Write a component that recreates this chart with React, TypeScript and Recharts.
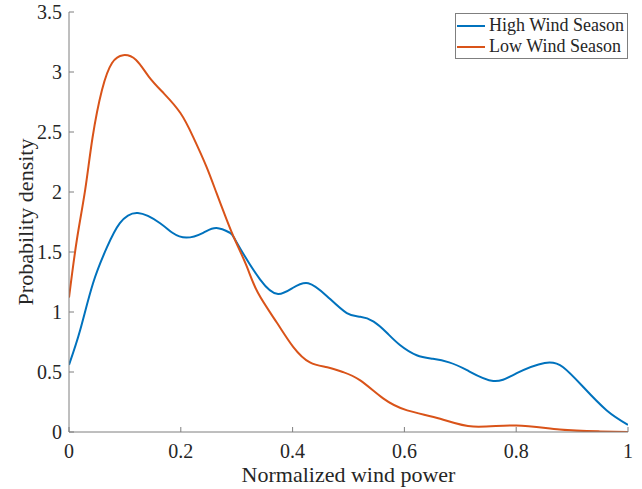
import React from 'react';
import { LineChart, Line, XAxis, YAxis, Legend } from 'recharts';

const highX = [0, 0.02, 0.043, 0.068, 0.091, 0.123, 0.163, 0.185, 0.21, 0.24, 0.264, 0.288, 0.3, 0.342, 0.374, 0.4, 0.428, 0.462, 0.497, 0.521, 0.545, 0.569, 0.592, 0.622, 0.651, 0.68, 0.712, 0.759, 0.801, 0.851, 0.884, 0.92, 0.962, 1.0];
const highY = [0.56, 0.85, 1.24, 1.54, 1.74, 1.825, 1.74, 1.66, 1.62, 1.66, 1.7, 1.66, 1.58, 1.27, 1.15, 1.2, 1.24, 1.13, 0.99, 0.96, 0.92, 0.825, 0.725, 0.64, 0.61, 0.58, 0.515, 0.425, 0.49, 0.575, 0.54, 0.375, 0.18, 0.06];

const lowX = [0, 0.014, 0.029, 0.042, 0.059, 0.077, 0.097, 0.12, 0.143, 0.17, 0.199, 0.222, 0.246, 0.264, 0.282, 0.297, 0.318, 0.338, 0.372, 0.401, 0.431, 0.462, 0.49, 0.521, 0.562, 0.605, 0.664, 0.723, 0.8, 0.878, 0.95, 1.0];
const lowY = [1.12, 1.6, 2.02, 2.45, 2.85, 3.075, 3.14, 3.1, 2.96, 2.82, 2.66, 2.46, 2.21, 1.99, 1.77, 1.6, 1.38, 1.16, 0.91, 0.71, 0.58, 0.54, 0.5, 0.43, 0.28, 0.18, 0.11, 0.045, 0.055, 0.02, 0.005, 0.0];

const xTicks = [0, 0.2, 0.4, 0.6, 0.8, 1];
const yTicks = [0, 0.5, 1, 1.5, 2, 2.5, 3, 3.5];

const seriesNames = ['High Wind Season', 'Low Wind Season'];
const seriesColors = ['#0072BD', '#D95319'];

const highData = highX.map((x, i) => ({ x, y: highY[i] }));
const lowData = lowX.map((x, i) => ({ x, y: lowY[i] }));

const AXIS = '#7f7f7f';
const TEXT = '#262626';
const FONT = '"Liberation Serif", "Times New Roman", serif';
const TL = 5;

const BottomTick = (p: any) => (
  <g>
    <line x1={p.x} x2={p.x} y1={p.y} y2={p.y - TL} stroke={AXIS} strokeWidth={1} />
    <text x={p.x} y={p.y + 26} textAnchor="middle" fontSize={20} fill={TEXT} fontFamily={FONT}>{String(p.payload.value)}</text>
  </g>
);
const LeftTick = (p: any) => (
  <g>
    <line x1={p.x} x2={p.x + TL} y1={p.y} y2={p.y} stroke={AXIS} strokeWidth={1} />
    <text x={p.x - 7} y={p.y + 7} textAnchor="end" fontSize={20} fill={TEXT} fontFamily={FONT}>{String(p.payload.value)}</text>
  </g>
);
const TopTick = (p: any) => (
  <line x1={p.x} x2={p.x} y1={p.y} y2={p.y + TL} stroke={AXIS} strokeWidth={1} />
);
const RightTick = (p: any) => (
  <line x1={p.x} x2={p.x - TL} y1={p.y} y2={p.y} stroke={AXIS} strokeWidth={1} />
);

const XLabel = (p: any) => {
  const vb = p.viewBox;
  return (
    <text x={vb.x + vb.width / 2} y={vb.y + 50} textAnchor="middle" fontSize={22} fill={TEXT} fontFamily={FONT}>
      Normalized wind power
    </text>
  );
};
const YLabel = (p: any) => {
  const vb = p.viewBox;
  const cx = vb.x + 33;
  const cy = vb.y + vb.height / 2;
  return (
    <text x={cx} y={cy} textAnchor="middle" fontSize={22} fill={TEXT} fontFamily={FONT} transform={`rotate(-90, ${cx}, ${cy})`}>
      Probability density
    </text>
  );
};

const LegendBox = () => (
  <div style={{ border: `1px solid ${AXIS}`, background: '#fff', width: 173, height: 46, boxSizing: 'border-box', padding: '1px 0 0 1px' }}>
    {seriesNames.map((n, i) => (
      <div key={n} style={{ display: 'flex', alignItems: 'center', height: 21, fontFamily: FONT, fontSize: 18, color: TEXT }}>
        <div style={{ width: 28, height: 2, background: seriesColors[i], marginRight: 4 }} />
        <span style={{ whiteSpace: 'nowrap' }}>{n}</span>
      </div>
    ))}
  </div>
);

export default function App() {
  return (
    <div style={{ position: 'absolute', left: 0, top: 0, background: '#fff' }}>
      <LineChart width={642} height={489} margin={{ top: 12, right: 14, bottom: 0, left: 0 }}>
        <XAxis
          xAxisId="b"
          dataKey="x"
          type="number"
          domain={[0, 1]}
          ticks={xTicks}
          interval={0}
          height={57}
          tickSize={0}
          tickMargin={0}
          stroke={AXIS}
          tick={BottomTick}
          label={<XLabel />}
          allowDataOverflow
        />
        <XAxis
          xAxisId="t"
          orientation="top"
          dataKey="x"
          type="number"
          domain={[0, 1]}
          ticks={xTicks}
          interval={0}
          height={0}
          tickSize={0}
          tickMargin={0}
          stroke={AXIS}
          tick={TopTick}
          allowDataOverflow
        />
        <YAxis
          yAxisId="l"
          type="number"
          domain={[0, 3.5]}
          ticks={yTicks}
          interval={0}
          width={69}
          tickSize={0}
          tickMargin={0}
          stroke={AXIS}
          tick={LeftTick}
          label={<YLabel />}
          allowDataOverflow
        />
        <YAxis
          yAxisId="r"
          orientation="right"
          type="number"
          domain={[0, 3.5]}
          ticks={yTicks}
          interval={0}
          width={0}
          tickSize={0}
          tickMargin={0}
          stroke={AXIS}
          tick={RightTick}
          allowDataOverflow
        />
        <Legend
          layout="vertical"
          align="center"
          verticalAlign="middle"
          wrapperStyle={{ position: 'absolute', left: 455, top: 13, width: 173, height: 46 }}
          content={<LegendBox />}
        />
        <Line xAxisId="t" yAxisId="r" data={highData} dataKey="y" stroke="none" dot={false} activeDot={false} legendType="none" isAnimationActive={false} />
        <Line xAxisId="b" yAxisId="l" data={highData} dataKey="y" name={seriesNames[0]} type="natural" stroke={seriesColors[0]} strokeWidth={2} dot={false} isAnimationActive={false} />
        <Line xAxisId="b" yAxisId="l" data={lowData} dataKey="y" name={seriesNames[1]} type="natural" stroke={seriesColors[1]} strokeWidth={2} dot={false} isAnimationActive={false} />
      </LineChart>
    </div>
  );
}
